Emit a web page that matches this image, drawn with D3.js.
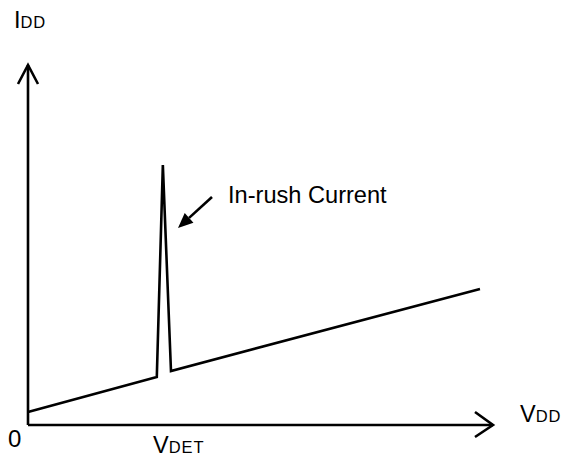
<!DOCTYPE html>
<html>
<head>
<meta charset="utf-8">
<script src="https://cdn.jsdelivr.net/npm/d3@7"></script>
<style>
  html, body { margin: 0; padding: 0; background: #fff; }
  svg { display: block; }
  text { font-family: "Liberation Sans", Arial, sans-serif; fill: #000; }
</style>
</head>
<body>
<svg id="chart" width="562" height="459"></svg>
<script>
// Data (arbitrary units, 0..100 on both axes)
const vddValues = [0, 27.7, 29.0, 30.75, 97.2];
const iddValues = [3.6, 13.3, 72.2, 15.0, 37.8];
const xAxisLabel = ["V", "DD"];
const yAxisLabel = ["I", "DD"];
const vdetLabel = ["V", "DET"];
const originLabel = "0";
const annotationText = "In-rush Current";

const svg = d3.select("#chart");
const x = d3.scaleLinear().domain([0, 100]).range([28, 493]);
const y = d3.scaleLinear().domain([0, 100]).range([425, 65]);

// Axes
svg.append("line").attr("x1", x(0)).attr("y1", y(0)).attr("x2", x(100)).attr("y2", y(0))
  .attr("stroke", "#000").attr("stroke-width", 2.6);
svg.append("line").attr("x1", x(0)).attr("y1", y(0)).attr("x2", x(0)).attr("y2", y(100))
  .attr("stroke", "#000").attr("stroke-width", 2.6);
// Arrowheads (open chevrons)
svg.append("path")
  .attr("d", `M${x(100)-18},${y(0)-13} L${x(100)},${y(0)} L${x(100)-18},${y(0)+12}`)
  .attr("fill", "none").attr("stroke", "#000").attr("stroke-width", 2.6);
svg.append("path")
  .attr("d", `M${x(0)-10},${y(100)+19} L${x(0)},${y(100)} L${x(0)+10},${y(100)+19}`)
  .attr("fill", "none").attr("stroke", "#000").attr("stroke-width", 2.6);

// Curve
const pts = vddValues.map((v, i) => [v, iddValues[i]]);
svg.append("path")
  .datum(pts)
  .attr("d", d3.line().x(d => x(d[0])).y(d => y(d[1])))
  .attr("fill", "none").attr("stroke", "#000").attr("stroke-width", 2.6)
  .attr("stroke-linejoin", "miter");

// Annotation arrow
const ax1 = 212, ay1 = 197, ax2 = 178, ay2 = 228;
const ang = Math.atan2(ay2 - ay1, ax2 - ax1);
const hl = 15, hw = 6.5;
const bx = ax2 - hl * Math.cos(ang), by = ay2 - hl * Math.sin(ang);
svg.append("line").attr("x1", ax1).attr("y1", ay1).attr("x2", bx).attr("y2", by)
  .attr("stroke", "#000").attr("stroke-width", 2.6);
svg.append("path")
  .attr("d", `M${ax2},${ay2} L${bx + hw*Math.sin(ang)},${by - hw*Math.cos(ang)} L${bx - hw*Math.sin(ang)},${by + hw*Math.cos(ang)} Z`)
  .attr("fill", "#000");

svg.append("text").attr("x", 228).attr("y", 203).attr("font-size", 23.6).text(annotationText);

// Labels with small-caps subscripts
function label(parts, px, py) {
  const t = svg.append("text").attr("x", px).attr("y", py);
  t.append("tspan").attr("font-size", 23.5).text(parts[0]);
  t.append("tspan").attr("font-size", 16.5).attr("letter-spacing", 0.9).text(parts[1]);
}
label(yAxisLabel, 14, 28);
label(xAxisLabel, 520, 422);
label(vdetLabel, 153, 453);
svg.append("text").attr("x", 8).attr("y", 447).attr("font-size", 24).text(originLabel);
</script>
</body>
</html>
